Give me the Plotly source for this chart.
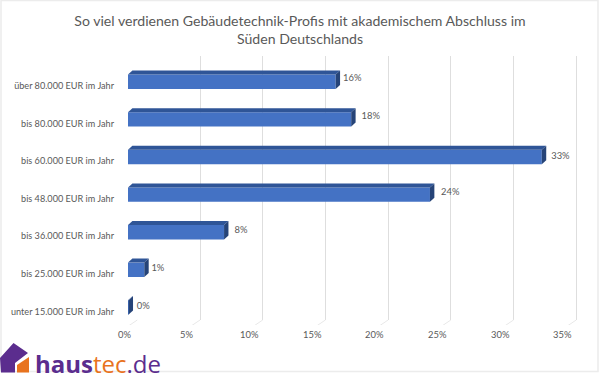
import plotly.graph_objects as go

categories = ["unter 15.000 EUR im Jahr", "bis 25.000 EUR im Jahr", "bis 36.000 EUR im Jahr",
              "bis 48.000 EUR im Jahr", "bis 60.000 EUR im Jahr", "bis 80.000 EUR im Jahr",
              "über 80.000 EUR im Jahr"]
values = [0.05, 1.3, 7.66, 24.08, 33.0, 17.8, 16.56]
labels = ["0%", "1%", "8%", "24%", "33%", "18%", "16%"]
ticks = [0, 5, 10, 15, 20, 25, 30, 35]

W, H = 600, 373
PX = 62.7 / 5          # pixels per percent
X0 = 128               # pixel of value 0 on the front plane
XL, XR = 118, 598      # front axes horizontal pixel span
PY = 37.6              # pixels per category
Y_TOP, Y_BOT = 56, 325 # front axes vertical pixel span
cat0_y = 307.4         # pixel centre of first category
WALL_X, FLOOR_Y = 137.3, 320

DX, DY = 4.4 / PX, 4.0 / PY   # bar depth in data units
H2 = 7.2 / PY                 # half bar thickness
ylo = (cat0_y - Y_BOT) / PY
yhi = (cat0_y - Y_TOP) / PY

FACE, TOP, SIDE = "#4472c4", "#2f5597", "#264478"
GRID = "#dedede"
TEXT = "#595959"
# small per-label nudges, in pixels, for the data labels
label_gap = [3.7, 2.7, 6, 6.7, 5, 6, 3]
label_up = [0.5, 1, 2, 2.3, 0.5, 3, 3.5]

fig = go.Figure()

# back wall gridlines: own axes, drawn beneath the bars
fig.add_trace(go.Scatter(x=[0], y=[0], mode="markers", marker=dict(opacity=0), hoverinfo="skip",
                         showlegend=False, xaxis="x", yaxis="y"))

common = dict(mode="lines", hoverinfo="skip", showlegend=False, xaxis="x2", yaxis="y2")
# floor lines
for t in ticks:
    fig.add_trace(go.Scatter(x=[t + (WALL_X - X0) / PX, t - 4 / PX],
                             y=[(cat0_y - FLOOR_Y) / PY, (cat0_y - 329) / PY],
                             line=dict(color="#e8e8e8", width=1), **common))

fig.add_trace(go.Bar(y=list(range(7)), x=values, orientation="h", width=2 * H2,
                     marker=dict(color=FACE, line=dict(width=0)), showlegend=False,
                     xaxis="x2", yaxis="y2"))

for i, v in enumerate(values):
    fig.add_trace(go.Scatter(x=[0, v, v + DX, DX, 0],
                             y=[i + H2, i + H2, i + H2 + DY, i + H2 + DY, i + H2],
                             fill="toself", fillcolor=TOP, line=dict(width=0), **common))
    fig.add_trace(go.Scatter(x=[v, v + DX, v + DX, v, v],
                             y=[i - H2, i - H2 + DY, i + H2 + DY, i + H2, i - H2],
                             fill="toself", fillcolor=SIDE, line=dict(width=0), **common))

fig.add_trace(go.Scatter(x=[v + DX + g / PX for v, g in zip(values, label_gap)],
                         y=[i + u / PY for i, u in enumerate(label_up)],
                         mode="text", text=labels, textposition="middle right",
                         textfont=dict(family="Lato", size=9.4, color=TEXT),
                         showlegend=False, hoverinfo="skip", xaxis="x2", yaxis="y2"))

fig.update_layout(
    width=W, height=H, paper_bgcolor="white", plot_bgcolor="rgba(0,0,0,0)", showlegend=False,
    margin=dict(l=0, r=0, t=0, b=0), barmode="overlay",
    font=dict(family="Lato", color=TEXT),
    title=dict(text="So viel verdienen Gebäudetechnik-Profis mit akademischem Abschluss im<br>Süden Deutschlands",
               x=0.5, xanchor="center", xref="paper", y=1 - 26 / H, yanchor="middle",
               font=dict(family="Lato", size=14.1, color=TEXT)),
    xaxis=dict(domain=[WALL_X / W, XR / W], range=[0, (XR - WALL_X) / PX], showgrid=True, gridcolor=GRID,
               gridwidth=1, tickmode="array", tickvals=ticks, showticklabels=False, zeroline=False,
               showline=False, ticklen=0, anchor="y"),
    yaxis=dict(domain=[1 - FLOOR_Y / H, 1 - Y_TOP / H], range=[0, 1], showgrid=False, zeroline=False,
               showline=False, showticklabels=False, ticklen=0, anchor="x"),
    xaxis2=dict(domain=[XL / W, XR / W], range=[(XL - X0) / PX, (XR - X0) / PX], showgrid=False,
                zeroline=False, showline=False, tickvals=[], anchor="y2"),
    yaxis2=dict(domain=[1 - Y_BOT / H, 1 - Y_TOP / H], range=[ylo, yhi], showgrid=False, zeroline=False,
                showline=False, tickmode="array", tickvals=list(range(7)), ticktext=categories, ticklen=0,
                ticklabelstandoff=3, ticklabelshift=4,
                tickfont=dict(family="Lato", size=9.15, color=TEXT), anchor="x2"),
)
for t in ticks:
    fig.add_annotation(x=t - 4 / PX, xref="x2", y=1 - 341.5 / H, yref="paper", text=f"{t}%", showarrow=False,
                       font=dict(family="Lato", size=9.4, color=TEXT))

fig.add_shape(type="rect", xref="paper", yref="paper", x0=1 / W, x1=598 / W, y0=1 - 371.5 / H, y1=1 - 0.5 / H,
              line=dict(color="#ececec", width=1.5), layer="below")


def poly(pts):
    return " ".join(f"{'M' if k == 0 else 'L'} {px / W} {1 - py / H}" for k, (px, py) in enumerate(pts)) + " Z"


# logo
fig.add_shape(type="path", xref="paper", yref="paper", fillcolor="#5b2d8e", line=dict(width=0),
              path=poly([(0, 358), (13.5, 343), (28, 353), (15, 363), (15, 372.5), (1, 372.5)]))
fig.add_shape(type="path", xref="paper", yref="paper", fillcolor="#e8731e", line=dict(width=0),
              path=poly([(17, 365), (29, 357), (29, 372.5), (17, 372.5)]))
fig.add_annotation(x=33 / W, y=1 - 363.5 / H, xref="paper", yref="paper", xanchor="left", yanchor="middle",
                   showarrow=False,
                   text="<b><span style='color:#5b2d8e'>haus</span></b><span style='color:#e8731e'>tec</span>"
                        "<span style='color:#5b2d8e'>.de</span>",
                   font=dict(family="Open Sans", size=24))

fig.write_html("out.html", config=dict(displayModeBar=False),
               post_script="document.body.style.margin='0';")
